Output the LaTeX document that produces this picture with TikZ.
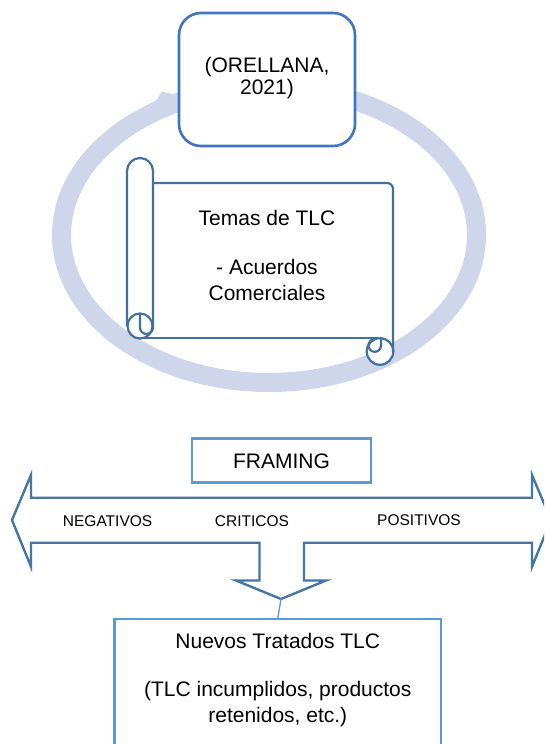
\documentclass[tikz,border=0pt]{standalone}
\usepackage{fontspec}
\setmainfont{Liberation Sans}
\definecolor{ringc}{RGB}{207,213,234}
\definecolor{boxc}{RGB}{68,114,196}
\definecolor{scrollc}{RGB}{65,113,156}
\definecolor{lightc}{RGB}{91,155,213}
\definecolor{arrowc}{RGB}{70,118,165}
\tikzset{
  bigtext/.style={font=\fontsize{21}{26.3}\selectfont, align=center, inner sep=0pt},
  smalltext/.style={font=\fontsize{15.5}{18}\selectfont, inner sep=0pt},
  scrollline/.style={draw=scrollc, line width=2.2pt, line join=round},
  lightbox/.style={draw=lightc, line width=2.4pt, fill=white, inner sep=0pt}
}
\begin{document}
\begin{tikzpicture}[x=1pt,y=-1pt]
\useasboundingbox (0,0) rectangle (544,744);
\clip (0,0) rectangle (544,744);
\fill[white] (0,0) rectangle (544,744);
% ring with arrow
\draw[ringc, line width=19pt] (269,235) ellipse [x radius=207.5, y radius=147.5];
\fill[ringc] (156,101) -- (162,91.5) -- (184,97) -- (184,114) -- cycle;
% source box
\node[draw=boxc, line width=2.6pt, rounded corners=22pt, fill=white,
      minimum width=176pt, minimum height=133pt, inner sep=0pt] (src) at (267,79.5) {};
\node[font=\fontsize{21}{22}\selectfont, align=center, inner sep=0pt] (srct) at (267,78.5) {(ORELLANA,\\2021)};
% scroll
\fill[white] (140,183) rectangle (393,338);
\fill[white] (127,171) rectangle (153,326);
\fill[white] (140,326) circle[radius=12.5];
\fill[white] (380,351.5) circle[radius=13.3];
\draw[scrollline, rounded corners=6pt] (153,183) -- (393,183) [sharp corners] -- (393,351.5);
\draw[scrollline] (140,338) -- (380,338);
\draw[scrollline] (380,351.5) circle[radius=13.3];
\draw[scrollline] (381,338) -- (381,345.5) arc[start angle=0, end angle=270, radius=6.3];
\draw[scrollline] (127,326) -- (127,171) arc[start angle=180, end angle=360, radius=13] -- (153,327.5) arc[start angle=0, end angle=180, radius=6.5] -- (140,313.5);
\draw[scrollline] (140,326) circle[radius=12.5];
\node[bigtext] (temas) at (267,255.5) {Temas de TLC\\[23pt]- Acuerdos\\Comerciales};
% framing box
\node[lightbox, minimum width=179pt, minimum height=44pt] (framing) at (281.5,460.3) {};
\node[bigtext] (framingt) at (281.5,461) {FRAMING};
% three-way arrow
\draw[draw=arrowc, line width=2.4pt, fill=white, line join=miter]
  (12,520) -- (31,475) -- (31,497.7) -- (532,497.7) -- (532,475) -- (551,520)
  -- (532,566.7) -- (532,542.7) -- (304,542.7) -- (304,580.5) -- (326,580.5)
  -- (281,599) -- (236,580.5) -- (259.5,580.5) -- (259.5,542.7) -- (31,542.7)
  -- (31,566.7) -- cycle;
\coordinate (tip) at (281,599);
\node[smalltext] (neg) at (107.6,521) {NEGATIVOS};
\node[smalltext] (crit) at (252,521) {CRITICOS};
\node[smalltext] (pos) at (419,520.5) {POSITIVOS};
% bottom box
\node[lightbox, minimum width=326.5pt, minimum height=160pt, anchor=north] (nuevos) at (277.8,618) {};
\draw[lightc, line width=1.3pt] (tip) -- (nuevos.north);
\node[bigtext] (nuevost) at (277.8,680) {Nuevos Tratados TLC\\[22pt](TLC incumplidos, productos\\retenidos, etc.)};
\end{tikzpicture}
\end{document}
